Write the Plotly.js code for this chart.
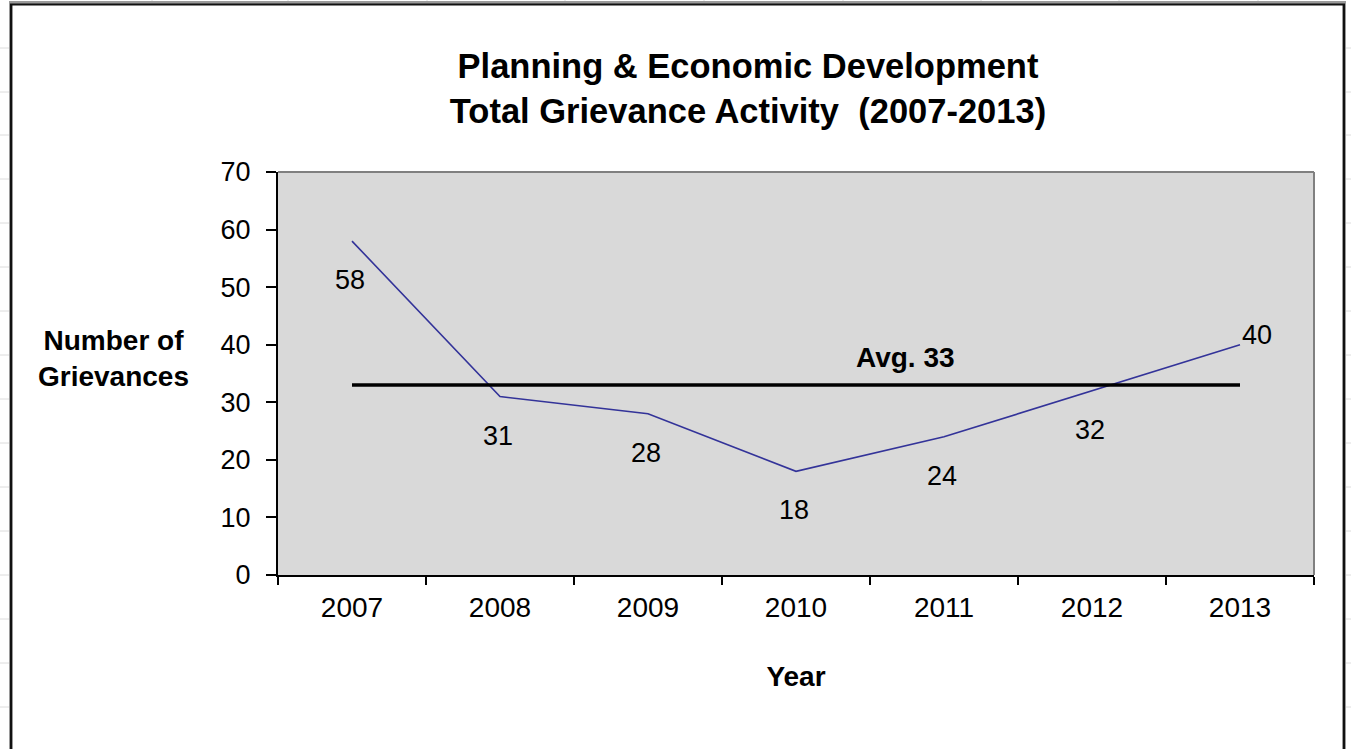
<!DOCTYPE html>
<html>
<head>
<meta charset="utf-8">
<script src="https://cdn.plot.ly/plotly-3.0.1.min.js"></script>
<style>
  html, body { margin: 0; padding: 0; background: #ffffff; }
  #chart { width: 1351px; height: 749px; }
</style>
</head>
<body>
<div id="chart"></div>
<script>
// ---- data ----
const years = ["2007", "2008", "2009", "2010", "2011", "2012", "2013"];
const grievances = [58, 31, 28, 18, 24, 32, 40];
const yTicks = [0, 10, 20, 30, 40, 50, 60, 70];
const titleLines = ["Planning & Economic Development", "Total Grievance Activity  (2007-2013)"];
const xTitle = "Year";
const yTitleLines = ["Number of", "Grievances"];
const avgLabelPrefix = "Avg. ";

// ---- derived ----
const avg = Math.round(grievances.reduce((a, b) => a + b, 0) / grievances.length);

// ---- layout geometry (pixels) ----
const W = 1351, H = 749;
const M = { l: 278, r: 37, t: 172, b: 174 };
const PW = W - M.l - M.r, PH = H - M.t - M.b;
const px = x => (x - M.l) / PW;        // pixel -> paper x
const py = y => (H - M.b - y) / PH;    // pixel -> paper y

const FONT = "Liberation Sans, Arial, Helvetica, sans-serif";
const LINE_COLOR = "#333399";

// label offsets (style only)
const labelShift = grievances.map((v, i) => i === grievances.length - 1 ? { x: 17, y: 10 } : { x: -2, y: -39 });

const traces = [
  {
    x: years, y: grievances, type: "scatter", mode: "lines",
    line: { color: LINE_COLOR, width: 1.6 }, hoverinfo: "skip", showlegend: false
  },
  {
    x: [years[0], years[years.length - 1]], y: [avg, avg], type: "scatter", mode: "lines",
    line: { color: "#000000", width: 3.5 }, hoverinfo: "skip", showlegend: false
  }
];

const annotations = grievances.map((v, i) => ({
  x: i, y: v, xref: "x", yref: "y", text: String(v), showarrow: false,
  xanchor: "center", yanchor: "middle",
  xshift: labelShift[i].x, yshift: labelShift[i].y,
  font: { family: FONT, size: 27, color: "#000" }
}));
annotations.push({
  x: px(905), y: avg, xref: "paper", yref: "y", text: avgLabelPrefix + avg, showarrow: false,
  xanchor: "center", yanchor: "middle",
  yshift: 28, font: { family: FONT, size: 28, color: "#000", weight: "bold" }
});
annotations.push({
  x: px(113), y: py(358), xref: "paper", yref: "paper", text: yTitleLines.join("<br>"),
  showarrow: false, align: "center", xanchor: "center", yanchor: "middle",
  font: { family: FONT, size: 28, color: "#000", weight: "bold" }
});

// shapes: chart border, plot top/right border, faint spreadsheet grid outside border
const shapes = [];
const gridColor = "#dcdcdc";
[152, 288, 427, 565, 704, 843, 981, 1119, 1258].forEach(gx => {
  shapes.push({ type: "line", xref: "paper", yref: "paper", x0: px(gx), x1: px(gx), y0: py(0), y1: py(3),
    line: { color: gridColor, width: 1 } });
});
[48, 92, 135, 179, 223, 267, 311, 355, 399, 443, 487, 531, 575, 619, 663, 707].forEach(gy => {
  shapes.push({ type: "line", xref: "paper", yref: "paper", x0: px(0), x1: px(9), y0: py(gy), y1: py(gy),
    line: { color: gridColor, width: 1 } });
  shapes.push({ type: "line", xref: "paper", yref: "paper", x0: px(1346), x1: px(1351), y0: py(gy), y1: py(gy),
    line: { color: gridColor, width: 1 } });
});
// chart outer border (black, with soft grey halo)
shapes.push({ type: "rect", xref: "paper", yref: "paper", x0: px(11), x1: px(1344), y0: py(760), y1: py(3),
  line: { color: "#9a9a9a", width: 4 }, fillcolor: "rgba(0,0,0,0)" });
shapes.push({ type: "rect", xref: "paper", yref: "paper", x0: px(11), x1: px(1344), y0: py(760), y1: py(4.5),
  line: { color: "#111111", width: 2 }, fillcolor: "rgba(0,0,0,0)" });
// plot area top & right border (grey)
shapes.push({ type: "line", xref: "paper", yref: "paper", x0: 0, x1: 1, y0: 1, y1: 1, line: { color: "#808080", width: 2 } });
shapes.push({ type: "line", xref: "paper", yref: "paper", x0: 1, x1: 1, y0: 0, y1: 1, line: { color: "#808080", width: 2 } });

const layout = {
  width: W, height: H, autosize: false,
  margin: M,
  paper_bgcolor: "#ffffff",
  plot_bgcolor: "#d9d9d9",
  showlegend: false,
  font: { family: FONT, color: "#000" },
  title: {
    text: titleLines.join("<br>"),
    font: { family: FONT, size: 34.5, color: "#000", weight: "bold" },
    x: px(748), xref: "paper", xanchor: "center",
    y: 1 - 78 / H, yref: "container", yanchor: "middle"
  },
  xaxis: {
    type: "category", categoryorder: "array", categoryarray: years,
    range: [-0.5, years.length - 0.5],
    tickson: "boundaries", ticks: "outside", ticklen: 8, tickwidth: 2, tickcolor: "#000",
    showline: true, linecolor: "#000", linewidth: 2,
    showgrid: false, zeroline: false,
    tickfont: { family: FONT, size: 28, color: "#000" },
    ticklabelstandoff: 6,
    title: { text: xTitle, font: { family: FONT, size: 28, color: "#000", weight: "bold" }, standoff: 45 },
    fixedrange: true
  },
  yaxis: {
    range: [0, 70], tickmode: "array", tickvals: yTicks, ticktext: yTicks.map(String),
    ticks: "outside", ticklen: 10, tickwidth: 2, tickcolor: "#000",
    showline: true, linecolor: "#000", linewidth: 2,
    showgrid: false, zeroline: false,
    tickfont: { family: FONT, size: 27, color: "#000" },
    ticklabelstandoff: 10,
    fixedrange: true
  },
  shapes: shapes,
  annotations: annotations
};

Plotly.newPlot("chart", traces, layout, { displayModeBar: false, staticPlot: true });
</script>
</body>
</html>
